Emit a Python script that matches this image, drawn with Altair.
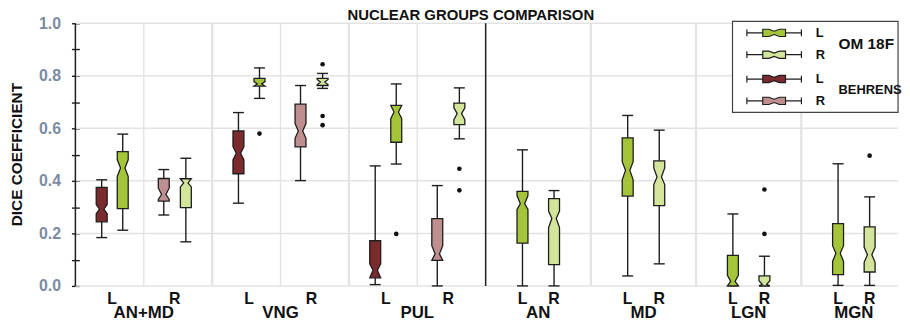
import altair as alt
import pandas as pd

FONT = "Liberation Sans"

# ---------------- data ----------------
group_names = ["AN+MD", "VNG", "PUL", "AN", "MD", "LGN", "MGN"]

box_group = (["AN+MD"] * 4 + ["VNG"] * 4 + ["PUL"] * 4
             + ["AN", "AN", "MD", "MD", "LGN", "LGN", "MGN", "MGN"])
box_method = ["Behrens", "OM 18F", "Behrens", "OM 18F"] * 3 + ["OM 18F"] * 8
box_side = ["L", "L", "R", "R"] * 3 + ["L", "R"] * 4

whisker_lo = [0.184, 0.212, 0.270, 0.168, 0.315, 0.714, 0.401, 0.752, 0.005, 0.464, 0.000, 0.560,
              0.000, 0.000, 0.038, 0.084, 0.000, 0.000, 0.002, 0.002]
quart_1 = [0.244, 0.294, 0.323, 0.298, 0.427, 0.761, 0.529, 0.763, 0.031, 0.547, 0.097, 0.614,
           0.163, 0.081, 0.342, 0.306, 0.000, 0.000, 0.043, 0.053]
notch_lo = [0.275, 0.417, 0.329, 0.377, 0.480, 0.761, 0.562, 0.766, 0.031, 0.637, 0.097, 0.633,
            0.291, 0.222, 0.404, 0.386, 0.000, 0.000, 0.093, 0.090]
medians = [0.292, 0.449, 0.348, 0.392, 0.505, 0.769, 0.590, 0.776, 0.060, 0.662, 0.122, 0.656,
           0.313, 0.257, 0.440, 0.415, 0.017, 0.006, 0.124, 0.119]
notch_hi = [0.310, 0.480, 0.373, 0.408, 0.530, 0.778, 0.618, 0.786, 0.084, 0.687, 0.153, 0.678,
            0.344, 0.285, 0.473, 0.449, 0.040, 0.020, 0.153, 0.147]
quart_3 = [0.375, 0.511, 0.409, 0.408, 0.590, 0.790, 0.692, 0.790, 0.172, 0.687, 0.256, 0.696,
           0.360, 0.332, 0.564, 0.476, 0.116, 0.038, 0.237, 0.225]
whisker_hi = [0.404, 0.578, 0.443, 0.486, 0.660, 0.830, 0.763, 0.809, 0.457, 0.769, 0.382, 0.754,
              0.518, 0.363, 0.649, 0.593, 0.274, 0.113, 0.465, 0.339]
outliers = [[], [], [], [], [], [0.580], [], [0.844, 0.647, 0.612], [], [0.198], [], [0.446, 0.364],
            [], [], [], [], [], [0.367, 0.198], [], [0.496]]

y_ticks = [0.0, 0.1, 0.2, 0.3, 0.4, 0.5, 0.6, 0.7, 0.8, 0.9, 1.0]
y_grid = [0.0, 0.2, 0.4, 0.6, 0.8, 1.0]
y_title = "DICE COEFFICIENT"
chart_title = "NUCLEAR GROUPS COMPARISON"

# ---------------- layout (x units) ----------------
LEFT_W, RIGHT_W, SPLIT = 6.5, 5.0, 19.5
left_pos = {("Behrens", "L"): 1.25, ("OM 18F", "L"): 2.25,
            ("Behrens", "R"): 4.2, ("OM 18F", "R"): 5.25}
right_pos = {"L": 1.75, "R": 3.25}
BOX_W, WAIST, CAP_W = 0.52, 0.40, 0.52
X_MAX = 39.1
W, H = 830, 265

OM_COLORS = ["#a4c43a", "#d3e49b"]
BEH_COLORS = ["#7b2b2d", "#bf8e8e"]
EDGE = "#1e1e1e"


def gstart(g):
    gi = group_names.index(g)
    return gi * LEFT_W if gi < 3 else SPLIT + (gi - 3) * RIGHT_W


def xpos(g, m, s):
    gi = group_names.index(g)
    return gstart(g) + (left_pos[(m, s)] if gi < 3 else right_pos[s])


poly_rows, whisk_rows, cap_rows, out_rows = [], [], [], []
for i in range(len(box_group)):
    g, m, s = box_group[i], box_method[i], box_side[i]
    xc = xpos(g, m, s)
    hw = BOX_W / 2
    pts = [(quart_1[i], hw), (notch_lo[i], hw), (medians[i], hw * WAIST),
           (notch_hi[i], hw), (quart_3[i], hw)]
    for k, (yv, h) in enumerate(pts):
        poly_rows.append(dict(box=i, method=m, side=s, y=yv, xl=xc - h, xr=xc + h, k=k))
    whisk_rows += [dict(x=xc, y=whisker_lo[i], y2=quart_1[i]),
                   dict(x=xc, y=quart_3[i], y2=whisker_hi[i])]
    cap_rows += [dict(x=xc - CAP_W / 2, x2=xc + CAP_W / 2, y=whisker_lo[i]),
                 dict(x=xc - CAP_W / 2, x2=xc + CAP_W / 2, y=whisker_hi[i])]
    for o in outliers[i]:
        out_rows.append(dict(x=xc, y=o))

poly = pd.DataFrame(poly_rows)
whisk = pd.DataFrame(whisk_rows)
caps = pd.DataFrame(cap_rows)
outs = pd.DataFrame(out_rows)

tick_rows, group_rows = [], []
for gi, g in enumerate(group_names):
    base = gstart(g)
    if gi < 3:
        tick_rows += [dict(x=base + (left_pos[("Behrens", "L")] + left_pos[("OM 18F", "L")]) / 2, t="L"),
                      dict(x=base + (left_pos[("Behrens", "R")] + left_pos[("OM 18F", "R")]) / 2, t="R")]
        group_rows.append(dict(x=base + LEFT_W / 2, t=g))
    else:
        tick_rows += [dict(x=base + right_pos["L"], t="L"), dict(x=base + right_pos["R"], t="R")]
        group_rows.append(dict(x=base + RIGHT_W / 2, t=g))
ticks_df = pd.DataFrame(tick_rows)
groups_df = pd.DataFrame(group_rows)

hgrid = pd.DataFrame({"y": y_grid})
vthin = [LEFT_W / 2 + k * LEFT_W for k in range(3)]
vthick = [LEFT_W, 2 * LEFT_W] + [SPLIT + k * RIGHT_W for k in range(1, 4)]
vgrid_thin = pd.DataFrame({"x": vthin, "y0": 0.0, "y1": 1.0})
vgrid_thick = pd.DataFrame({"x": vthick, "y0": 0.0, "y1": 1.0})
sep = pd.DataFrame({"x": [SPLIT], "y0": [0.0], "y1": [1.0]})
yline_df = pd.DataFrame({"x": [0.0], "y0": [0.0], "y1": [1.0]})
one = pd.DataFrame({"a": [0]})
ytitle_df = pd.DataFrame({"t": [y_title]})

# ---------------- encodings ----------------
xs = alt.Scale(domain=[0, X_MAX], nice=False, zero=False)
ys = alt.Scale(domain=[0, 1], nice=False)

y_axis = alt.Axis(
    values=y_ticks,
    labelExpr="(round(datum.value*10) % 2 == 0) ? format(datum.value, '.1f') : ''",
    tickSize=8, offset=-4, domain=False, grid=False, labelPadding=11,
    labelFontSize=16, labelFont=FONT, labelFontWeight="bold", labelColor="#7b8ba1",
    labelFlush=False, labelOverlap=False, tickColor=EDGE, tickWidth=1.4,
    title=None,
)


def Y(field):
    return alt.Y(field, scale=ys, axis=y_axis)


def X(field, **kw):
    return alt.X(field, scale=xs, axis=None, **kw)


LEG_PATH = ("M-3.93,-0.48L-3.93,0.48M-3.93,0L-1.64,0M1.64,0L3.93,0M3.93,-0.48L3.93,0.48"
            "M-1.64,-0.52L-0.75,-0.52L0,-0.24L0.75,-0.52L1.64,-0.52L1.64,0.52L0.75,0.52"
            "L0,0.24L-0.75,0.52L-1.64,0.52Z")


def legend(title, ly, tsize):
    return alt.Legend(
        title=title, orient="none", legendX=697, legendY=ly, direction="vertical",
        symbolType=LEG_PATH, symbolSize=196, symbolStrokeColor=EDGE, symbolStrokeWidth=1.2,
        symbolOpacity=1, labelFontSize=13, labelFont=FONT, labelFontWeight="bold",
        labelColor="#111", labelOffset=34, titleOrient="right", titleFontSize=tsize,
        titleFont=FONT, titleFontWeight="bold", titleColor="#111", titlePadding=14,
        rowPadding=7, padding=0,
    )


grid_h = alt.Chart(hgrid).mark_rule(color="#e3e3e3", strokeWidth=1.5).encode(y=Y("y:Q"))
grid_v1 = alt.Chart(vgrid_thin).mark_rule(color="#e3e3e3", strokeWidth=1.4).encode(
    x=X("x:Q"), y=Y("y0:Q"), y2="y1:Q")
grid_v2 = alt.Chart(vgrid_thick).mark_rule(color="#e3e3e3", strokeWidth=2.2).encode(
    x=X("x:Q"), y=Y("y0:Q"), y2="y1:Q")
sep_l = alt.Chart(sep).mark_rule(color=EDGE, strokeWidth=1.5).encode(
    x=X("x:Q"), y=Y("y0:Q"), y2="y1:Q")

whisk_l = alt.Chart(whisk).mark_rule(color=EDGE, strokeWidth=1.4).encode(
    x=X("x:Q"), y=Y("y:Q"), y2="y2:Q")
caps_l = alt.Chart(caps).mark_rule(color=EDGE, strokeWidth=1.4).encode(
    x=X("x:Q"), x2="x2:Q", y=Y("y:Q"))


def boxes(method, colors, title, ly, tsize):
    return alt.Chart(poly[poly.method == method]).mark_area(
        orient="horizontal", stroke=EDGE, strokeWidth=1.3, opacity=1, interpolate="linear"
    ).encode(
        y=Y("y:Q"),
        x=X("xl:Q", stack=None),
        x2="xr:Q",
        detail="box:N",
        fill=alt.Fill("side:N", scale=alt.Scale(domain=["L", "R"], range=colors),
                      legend=legend(title, ly, tsize)),
    )


om_l = boxes("OM 18F", OM_COLORS, "OM 18F", 1.7, 15.5)
beh_l = boxes("Behrens", BEH_COLORS, "BEHRENS", 48.3, 13)

out_l = alt.Chart(outs).mark_circle(color="#111", size=22, opacity=1).encode(
    x=X("x:Q"), y=Y("y:Q"))

yline = alt.Chart(yline_df).mark_rule(color=EDGE, strokeWidth=1.5).encode(
    x=X("x:Q"), y=Y("y0:Q"), y2="y1:Q")

tick_txt = alt.Chart(ticks_df).mark_text(
    font=FONT, fontSize=16, fontWeight="bold", color="#111", baseline="alphabetic"
).encode(x=X("x:Q"), y=alt.value(H + 18), text="t:N")
group_txt = alt.Chart(groups_df).mark_text(
    font=FONT, fontSize=17, fontWeight="bold", color="#111", baseline="alphabetic"
).encode(x=X("x:Q"), y=alt.value(H + 32), text="t:N")

ytitle_txt = alt.Chart(ytitle_df).mark_text(
    font=FONT, fontSize=15.5, fontWeight="bold", color="#111", angle=270,
    align="center", baseline="middle"
).encode(x=alt.value(-59), y=alt.value(H / 2), text="t:N")

frame = alt.Chart(one).mark_rect(fill="white", stroke="#444", strokeWidth=1.2).encode(
    x=alt.value(663), x2=alt.value(830), y=alt.value(-2), y2=alt.value(90))

chart = alt.layer(
    grid_h, grid_v1, grid_v2, sep_l, whisk_l, caps_l, om_l, beh_l, out_l, yline,
    tick_txt, group_txt, ytitle_txt, frame,
).resolve_scale(fill="independent").properties(
    width=W, height=H,
    autosize=alt.AutoSizeParams(type="none"),
    padding={"left": 68, "top": 14, "right": 4, "bottom": 34},
    title=alt.TitleParams(
        chart_title, font=FONT, fontSize=15, fontWeight="bold",
        color="#111", anchor="middle", frame="group", dx=-16, dy=11, offset=3),
).configure_view(stroke=None)

chart.save("out.html", embed_options={"renderer": "svg", "actions": False})
